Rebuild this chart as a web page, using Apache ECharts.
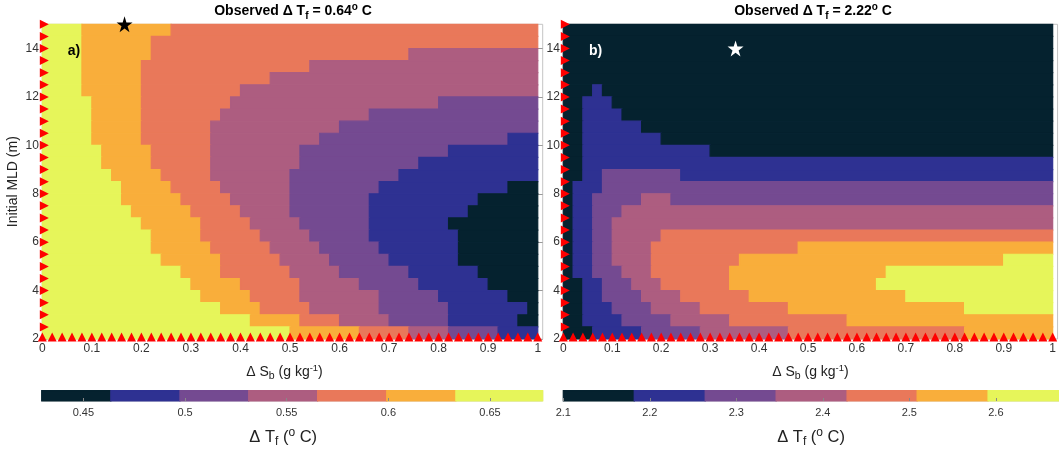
<!DOCTYPE html>
<html><head><meta charset="utf-8">
<script src="https://cdn.jsdelivr.net/npm/echarts@6/dist/echarts.min.js"></script>
<style>html,body{margin:0;padding:0;background:#fff}#c{width:1059px;height:454px}</style>
</head><body><div id="c"></div>
<script>
// ---- data ----
const levelColors = ['#05222f', '#2e3192', '#744a91', '#ad5d80', '#e9785a', '#f9ae3b', '#e6f55a'];
const rowBottoms = [14.5, 14, 13.5, 13, 12.5, 12, 11.5, 11, 10.5, 10, 9.5, 9, 8.5, 8, 7.5, 7, 6.5, 6, 5.5, 5, 4.5, 4, 3.5, 3, 2.5, 2];
const rowTops    = [15, 14.5, 14, 13.5, 13, 12.5, 12, 11.5, 11, 10.5, 10, 9.5, 9, 8.5, 8, 7.5, 7, 6.5, 6, 5.5, 5, 4.5, 4, 3.5, 3, 2.5];
// each row: runs of [level index, ΔSb where the run ends]
const runsA = [
  [[6,.08],[5,.26],[4,1]],
  [[6,.08],[5,.22],[4,1]],
  [[6,.08],[5,.22],[4,.74],[3,1]],
  [[6,.08],[5,.20],[4,.54],[3,1]],
  [[6,.08],[5,.20],[4,.46],[3,1]],
  [[6,.08],[5,.20],[4,.40],[3,1]],
  [[6,.10],[5,.20],[4,.38],[3,.80],[2,1]],
  [[6,.10],[5,.20],[4,.36],[3,.66],[2,1]],
  [[6,.10],[5,.20],[4,.34],[3,.60],[2,1]],
  [[6,.10],[5,.20],[4,.34],[3,.56],[2,.94],[1,1]],
  [[6,.12],[5,.22],[4,.34],[3,.52],[2,.82],[1,1]],
  [[6,.12],[5,.22],[4,.34],[3,.52],[2,.76],[1,1]],
  [[6,.14],[5,.24],[4,.34],[3,.50],[2,.72],[1,1]],
  [[6,.16],[5,.26],[4,.36],[3,.50],[2,.68],[1,.94],[0,1]],
  [[6,.16],[5,.28],[4,.38],[3,.50],[2,.66],[1,.88],[0,1]],
  [[6,.18],[5,.30],[4,.40],[3,.50],[2,.66],[1,.86],[0,1]],
  [[6,.20],[5,.32],[4,.42],[3,.52],[2,.66],[1,.82],[0,1]],
  [[6,.22],[5,.32],[4,.44],[3,.54],[2,.66],[1,.84],[0,1]],
  [[6,.22],[5,.34],[4,.46],[3,.56],[2,.68],[1,.84],[0,1]],
  [[6,.24],[5,.36],[4,.48],[3,.58],[2,.70],[1,.84],[0,1]],
  [[6,.28],[5,.36],[4,.50],[3,.60],[2,.74],[1,.88],[0,1]],
  [[6,.30],[5,.40],[4,.52],[3,.64],[2,.76],[1,.90],[0,1]],
  [[6,.32],[5,.42],[4,.52],[3,.68],[2,.80],[1,.94],[0,1]],
  [[6,.36],[5,.44],[4,.54],[3,.68],[2,.82],[1,.98],[0,1]],
  [[6,.42],[5,.52],[4,.60],[3,.70],[2,.82],[1,.96],[0,1]],
  [[6,.50],[5,.64],[4,.74],[3,.82],[2,.92],[1,1]]
];
const runsB = [
  [[0,1]],
  [[0,1]],
  [[0,1]],
  [[0,1]],
  [[0,1]],
  [[0,.06],[1,.08],[0,1]],
  [[0,.04],[1,.10],[0,1]],
  [[0,.04],[1,.12],[0,1]],
  [[0,.04],[1,.16],[0,1]],
  [[0,.04],[1,.20],[0,1]],
  [[0,.04],[1,.30],[0,1]],
  [[0,.04],[1,1]],
  [[0,.04],[1,.08],[2,.24],[1,1]],
  [[0,.02],[1,.08],[2,1]],
  [[0,.02],[1,.06],[2,.16],[3,.22],[2,1]],
  [[0,.02],[1,.06],[2,.12],[3,1]],
  [[0,.02],[1,.06],[2,.10],[3,1]],
  [[0,.02],[1,.06],[2,.10],[3,.20],[4,1]],
  [[0,.02],[1,.06],[2,.10],[3,.18],[4,.48],[5,1]],
  [[0,.02],[1,.06],[2,.10],[3,.18],[4,.36],[5,.90],[6,1]],
  [[0,.02],[1,.06],[2,.12],[3,.18],[4,.34],[5,.66],[6,1]],
  [[0,.04],[1,.08],[2,.14],[3,.20],[4,.34],[5,.64],[6,1]],
  [[0,.04],[1,.08],[2,.16],[3,.24],[4,.38],[5,.70],[6,1]],
  [[0,.04],[1,.10],[2,.18],[3,.28],[4,.46],[5,.82],[6,1]],
  [[0,.04],[1,.12],[2,.22],[3,.34],[4,.58],[5,1]],
  [[0,.06],[1,.16],[2,.28],[3,.46],[4,.82],[5,1]]
];
const sbGrid = [0,0.02,0.04,0.06,0.08,0.1,0.12,0.14,0.16,0.18,0.2,0.22,0.24,0.26,0.28,0.3,0.32,0.34,0.36,0.38,0.4,0.42,0.44,0.46,0.48,0.5,0.52,0.54,0.56,0.58,0.6,0.62,0.64,0.66,0.68,0.7,0.72,0.74,0.76,0.78,0.8,0.82,0.84,0.86,0.88,0.9,0.92,0.94,0.96,0.98,1];
const mldGrid = [2.5,3,3.5,4,4.5,5,5.5,6,6.5,7,7.5,8,8.5,9,9.5,10,10.5,11,11.5,12,12.5,13,13.5,14,14.5,15];
const xTicks = [0,0.1,0.2,0.3,0.4,0.5,0.6,0.7,0.8,0.9,1];
const yTicks = [2,4,6,8,10,12,14];
const cbEdgesA = [0.4295,0.4635,0.4975,0.5313,0.5652,0.5992,0.6332,0.6759];
const cbTicksA = [0.45,0.5,0.55,0.6,0.65];
const cbEdgesB = [2.1,2.182,2.264,2.346,2.428,2.509,2.591,2.673];
const cbTicksB = [2.1,2.2,2.3,2.4,2.5,2.6];
const starA = [[0.166,15]];
const starB = [[0.352,14]];
const observedA = '0.64';
const observedB = '2.22';

// ---- build ----
const FONT = "'Liberation Sans', Arial, Helvetica, sans-serif";
function buildCells(runs){
  const out = [];
  runs.forEach((row,i) => {
    let x0 = 0;
    row.forEach(([lvl, xe]) => { out.push([x0, xe, rowBottoms[i], rowTops[i], lvl]); x0 = xe; });
  });
  return out;
}
function buildBar(edges){
  const out = [];
  for (let i = 0; i < edges.length - 1; i++) out.push([edges[i], edges[i+1], 0, 1, i]);
  return out;
}
function renderRect(params, api){
  const p0 = api.coord([api.value(0), api.value(3)]);
  const p1 = api.coord([api.value(1), api.value(2)]);
  const c = levelColors[api.value(4)];
  return {type:'rect', shape:{x:p0[0], y:p0[1], width:p1[0]-p0[0], height:p1[1]-p0[1]},
          style:{fill:c, stroke:c, lineWidth:1.2}};
}
const leftTri = mldGrid.map(y => [0, y]);
const bottomTri = sbGrid.map(x => [x, 2]);

const richBase = {
  n: {fontSize:14, fontFamily:FONT, color:'#222', lineHeight:19},
  sub: {fontSize:10.5, fontFamily:FONT, color:'#222', lineHeight:8, verticalAlign:'bottom'},
  sup: {fontSize:9.5, fontFamily:FONT, color:'#222', lineHeight:8, verticalAlign:'top'}
};
const richCb = {
  n: {fontSize:16.5, fontFamily:FONT, color:'#222', lineHeight:21},
  sub: {fontSize:12, fontFamily:FONT, color:'#222', lineHeight:8, verticalAlign:'bottom'},
  sup: {fontSize:12, fontFamily:FONT, color:'#222', lineHeight:10, verticalAlign:'top'}
};
const richTitle = {
  n: {fontSize:14, fontWeight:'bold', fontFamily:FONT, color:'#000', lineHeight:19},
  sub: {fontSize:10, fontWeight:'bold', fontFamily:FONT, color:'#000', lineHeight:8, verticalAlign:'bottom'},
  sup: {fontSize:10, fontWeight:'bold', fontFamily:FONT, color:'#000', lineHeight:10, verticalAlign:'top'}
};
const xName = '{n|Δ S}{sub|b}{n| (g kg}{sup|-1}{n|)}';
const cbName = '{n|Δ T}{sub|f}{n| (}{sup|o}{n| C)}';

function mainX(gridIndex, pad){
  return {
    gridIndex, type:'value', min:0, max:1.01,
    axisLine:{show:false}, splitLine:{show:false},
    axisTick:{show:true, inside:true, length:5, lineStyle:{color:'#999'}, customValues:xTicks},
    axisLabel:{color:'#333', fontSize:12, fontFamily:FONT, margin:4, customValues:xTicks, formatter:v=>String(v)},
    name:xName, nameLocation:'middle', nameGap:24,
    nameTextStyle:{rich:richBase, padding:pad}
  };
}
function mainY(gridIndex, pos, labels, name){
  return {
    gridIndex, type:'value', min:2, max:15, position:pos,
    axisLine:{show:false}, splitLine:{show:false},
    axisTick:{show:true, inside:true, length:5, lineStyle:{color:'#999'}, customValues:yTicks},
    axisLabel:{show:labels, color:'#333', fontSize:12, fontFamily:FONT, margin:3.5, customValues:yTicks},
    name:name, nameLocation:'middle', nameGap:22, nameRotate:90,
    nameTextStyle:{fontSize:14, fontFamily:FONT, color:'#222'}
  };
}
function cbX(gridIndex, edges, ticks, pad){
  return {
    gridIndex, type:'value', min:edges[0], max:edges[edges.length-1], z:10,
    axisLine:{show:false}, splitLine:{show:false},
    axisTick:{show:true, inside:true, length:3, lineStyle:{color:'#888'}, customValues:ticks},
    axisLabel:{color:'#333', fontSize:11, fontFamily:FONT, margin:6, customValues:ticks, formatter:v=>String(v)},
    name:cbName, nameLocation:'middle', nameGap:26,
    nameTextStyle:{rich:richCb, padding:pad}
  };
}
function cbY(gridIndex){
  return {gridIndex, type:'value', min:0, max:1, show:false};
}
function triSeries(xi, yi, data, rot, off){
  return {type:'scatter', xAxisIndex:xi, yAxisIndex:yi, data, symbol:'triangle', symbolSize:[9,9],
          symbolRotate:rot, symbolOffset:off, itemStyle:{color:'#ff0000', opacity:1}, clip:false, silent:true, z:5};
}
const starPath = 'path://M50,0 L61.2,34.5 L97.6,34.5 L68.2,55.9 L79.4,90.5 L50,69.1 L20.6,90.5 L31.8,55.9 L2.4,34.5 L38.8,34.5 Z';

const option = {
  animation:false,
  backgroundColor:'#fff',
  title:[
    {text:'{n|Observed Δ T}{sub|f}{n| = '+observedA+'}{sup|o}{n| C}', left:293, top:2, padding:0, textAlign:'center', textStyle:{rich:richTitle}},
    {text:'{n|Observed Δ T}{sub|f}{n| = '+observedB+'}{sup|o}{n| C}', left:813, top:2, padding:0, textAlign:'center', textStyle:{rich:richTitle}},
    {text:'a)', left:74, top:44, padding:0, textAlign:'center', textStyle:{fontSize:14, fontWeight:'bold', fontFamily:FONT, color:'#000'}},
    {text:'b)', left:595.5, top:44, padding:0, textAlign:'center', textStyle:{fontSize:14, fontWeight:'bold', fontFamily:FONT, color:'#fff'}}
  ],
  grid:[
    {left:42.3, top:24.3, width:500.4, height:314.7, show:true, borderColor:'#c4c4c4', borderWidth:1, backgroundColor:'transparent'},
    {left:563.3, top:24.3, width:500.4, height:314.7, show:true, borderColor:'#c4c4c4', borderWidth:1, backgroundColor:'transparent'},
    {left:41.7, top:390.7, width:501, height:10.3, show:true, borderColor:'#aaa', borderWidth:0.6, backgroundColor:'transparent'},
    {left:563.3, top:390.7, width:499.4, height:10.3, show:true, borderColor:'#aaa', borderWidth:0.6, backgroundColor:'transparent'}
  ],
  xAxis:[ mainX(0,[0,16,0,0]), mainX(1,[0,0,0,0]), cbX(2,cbEdgesA,cbTicksA,[0,18,0,0]), cbX(3,cbEdgesB,cbTicksB,[0,0,0,0]) ],
  yAxis:[ mainY(0,'left',true,'Initial MLD (m)'), mainY(0,'right',false,''), mainY(1,'left',true,''), cbY(2), cbY(3) ],
  series:[
    {type:'custom', xAxisIndex:0, yAxisIndex:0, data:buildCells(runsA), renderItem:renderRect, encode:{x:[0,1], y:[2,3]}, silent:true, z:2},
    {type:'custom', xAxisIndex:1, yAxisIndex:2, data:buildCells(runsB), renderItem:renderRect, encode:{x:[0,1], y:[2,3]}, silent:true, z:2},
    {type:'custom', xAxisIndex:2, yAxisIndex:3, data:buildBar(cbEdgesA), renderItem:renderRect, encode:{x:[0,1], y:[2,3]}, silent:true, z:2},
    {type:'custom', xAxisIndex:3, yAxisIndex:4, data:buildBar(cbEdgesB), renderItem:renderRect, encode:{x:[0,1], y:[2,3]}, silent:true, z:2},
    triSeries(0,0,leftTri,-90,[2,0]),
    triSeries(0,0,bottomTri,0,[0,-2]),
    triSeries(1,2,leftTri,-90,[2,0]),
    triSeries(1,2,bottomTri,0,[0,-2]),
    {type:'scatter', xAxisIndex:0, yAxisIndex:0, data:starA, symbol:starPath, symbolSize:16, itemStyle:{color:'#000', opacity:1}, clip:false, z:6},
    {type:'scatter', xAxisIndex:1, yAxisIndex:2, data:starB, symbol:starPath, symbolSize:16, itemStyle:{color:'#fff', opacity:1}, clip:false, z:6}
  ]
};
const chart = echarts.init(document.getElementById('c'));
chart.setOption(option);
</script>
</body></html>
